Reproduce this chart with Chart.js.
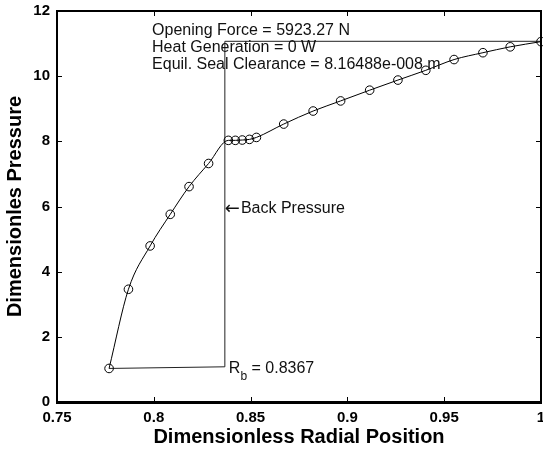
<!DOCTYPE html>
<html><head><meta charset="utf-8">
<script src="https://cdn.jsdelivr.net/npm/chart.js@4/dist/chart.umd.min.js"></script>
<style>html,body{margin:0;padding:0;background:#fff;overflow:hidden}#wrap{width:543px;height:449px}</style>
</head><body><div id="wrap"><canvas id="c" width="543" height="449"></canvas></div>
<script>
// ---- data ----
const radialPosition = [0.7769, 0.7869, 0.7981, 0.8085, 0.8182, 0.8283, 0.8385, 0.8421, 0.8457, 0.8494, 0.8530,
                        0.8671, 0.8823, 0.8965, 0.9115, 0.9261, 0.9405, 0.9551, 0.9700, 0.9841, 1.0000];
const pressure = [1.03, 3.46, 4.79, 5.76, 6.61, 7.32, 8.03, 8.03, 8.04, 8.06, 8.12,
                  8.53, 8.93, 9.24, 9.57, 9.88, 10.18, 10.51, 10.72, 10.90, 11.06];
const backPressureX = [0.7769, 0.8367, 0.8367, 1.0];
const backPressureY = [1.03, 1.08, 11.07, 11.07];
const xTicks = [0.75, 0.8, 0.85, 0.9, 0.95, 1];
const xTickLabels = ['0.75', '0.8', '0.85', '0.9', '0.95', '1'];
const yTicks = [0, 2, 4, 6, 8, 10, 12];
const yTickLabels = ['0', '2', '4', '6', '8', '10', '12'];
const infoLines = ['Opening Force = 5923.27 N', 'Heat Generation = 0 W', 'Equil. Seal Clearance = 8.16488e-008 m'];
const arrowText = '\u2190', backPressureText = 'Back Pressure';
const rbMain = 'R', rbSub = 'b', rbValue = ' = 0.8367';
const xTitle = 'Dimensionless Radial Position';
const yTitle = 'Dimensionles Pressure';

const FONT = '"Liberation Sans", Arial, Helvetica, sans-serif';

const boxPlugin = {
  id: 'box',
  afterDatasetsDraw(chart) {
    const {ctx, chartArea: a, scales: {x, y}} = chart;
    ctx.save();
    ctx.strokeStyle = '#000';
    ctx.lineWidth = 1;
    const tl = 5;
    ctx.beginPath();
    xTicks.forEach(v => {
      if (v === xTicks[0] || v === xTicks[xTicks.length - 1]) return;
      const px = Math.round(x.getPixelForValue(v)) + 0.5;
      ctx.moveTo(px, a.bottom); ctx.lineTo(px, a.bottom - tl);
      ctx.moveTo(px, a.top); ctx.lineTo(px, a.top + tl);
    });
    yTicks.forEach(v => {
      if (v === yTicks[0] || v === yTicks[yTicks.length - 1]) return;
      const py = Math.round(y.getPixelForValue(v)) + 0.5;
      ctx.moveTo(a.left, py); ctx.lineTo(a.left + tl, py);
      ctx.moveTo(a.right, py); ctx.lineTo(a.right - tl, py);
    });
    ctx.stroke();
    ctx.lineWidth = 2;
    ctx.strokeRect(a.left, a.top, a.right - a.left, a.bottom - a.top);
    ctx.beginPath();
    ctx.lineWidth = 1;
    ctx.moveTo(a.left - 1, a.bottom + 1.5); ctx.lineTo(a.right + 1, a.bottom + 1.5);
    ctx.stroke();

    // text annotations positioned in data space
    ctx.fillStyle = '#111';
    ctx.textBaseline = 'middle';
    ctx.textAlign = 'left';
    ctx.font = '16px ' + FONT;
    const infoX = x.getPixelForValue(0.7991);
    const infoY = [11.39, 10.88, 10.37];
    infoLines.forEach((t, i) => ctx.fillText(t, infoX, y.getPixelForValue(infoY[i])));
    const bx = x.getPixelForValue(0.8367), by = y.getPixelForValue(5.93);
    ctx.font = '18px "DejaVu Sans", sans-serif';
    ctx.fillText(arrowText, bx, by + 1);
    const aw = ctx.measureText(arrowText).width;
    ctx.font = '16px ' + FONT;
    ctx.fillText(backPressureText, bx + aw + 1, by);
    const rx = x.getPixelForValue(0.8367) + 4, ry = y.getPixelForValue(1.01);
    ctx.fillText(rbMain, rx, ry);
    const rw = ctx.measureText(rbMain).width;
    ctx.font = '12px ' + FONT;
    ctx.fillText(rbSub, rx + rw, ry + 8);
    const sw = ctx.measureText(rbSub).width;
    ctx.font = '16px ' + FONT;
    ctx.fillText(rbValue, rx + rw + sw, ry);
    ctx.restore();
  }
};

new Chart(document.getElementById('c'), {
  type: 'scatter',
  data: {
    datasets: [
      {
        data: radialPosition.map((v, i) => ({x: v, y: pressure[i]})),
        showLine: true,
        borderColor: '#000',
        borderWidth: 1,
        cubicInterpolationMode: 'monotone',
        pointRadius: 4.3,
        pointBorderWidth: 1,
        pointBorderColor: '#000',
        pointBackgroundColor: 'rgba(0,0,0,0)',
        clip: 8
      },
      {
        data: backPressureX.map((v, i) => ({x: v, y: backPressureY[i]})),
        showLine: true,
        borderColor: '#222',
        borderWidth: 1,
        pointRadius: 0,
        tension: 0,
        clip: 8
      }
    ]
  },
  options: {
    responsive: false,
    animation: false,
    devicePixelRatio: 1,
    layout: {autoPadding: false, padding: {top: 11, right: 2, left: 0, bottom: 0}},
    plugins: {legend: {display: false}, tooltip: {enabled: false}},
    scales: {
      x: {
        type: 'linear', min: 0.75, max: 1,
        afterBuildTicks: s => { s.ticks = xTicks.map(v => ({value: v})); },
        afterFit: s => { s.height = 47; s.paddingLeft = 0; s.paddingRight = 0; },
        grid: {display: false, drawTicks: false},
        border: {display: false},
        ticks: {
          autoSkip: false, maxRotation: 0, padding: 7, color: '#000',
          font: {family: FONT, size: 15, weight: 'bold'},
          callback: (v, i) => xTickLabels[i]
        },
        title: {display: true, text: xTitle, color: '#000', padding: {top: 0, bottom: 0},
                font: {family: FONT, size: 20, weight: 'bold'}}
      },
      y: {
        type: 'linear', min: 0, max: 12,
        afterBuildTicks: s => { s.ticks = yTicks.map(v => ({value: v})); },
        afterFit: s => { s.width = 57; s.paddingTop = 0; s.paddingBottom = 0; },
        grid: {display: false, drawTicks: false},
        border: {display: false},
        ticks: {
          autoSkip: false, padding: 7, color: '#000',
          font: {family: FONT, size: 15, weight: 'bold'},
          callback: (v, i) => yTickLabels[i]
        },
        title: {display: true, text: yTitle, color: '#000', padding: {top: 3, bottom: 0},
                font: {family: FONT, size: 20, weight: 'bold'}}
      }
    }
  },
  plugins: [boxPlugin]
});
</script></body></html>
